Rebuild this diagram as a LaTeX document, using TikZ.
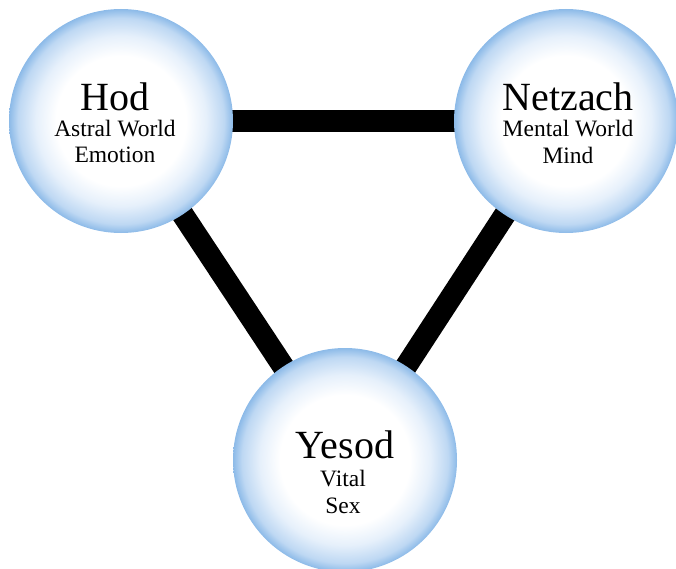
\documentclass[tikz,border=0pt]{standalone}
\usepackage{fontspec}
\setmainfont{Liberation Serif}
\pgfdeclarelayer{background}
\pgfsetlayers{background,main}
\definecolor{sphA}{RGB}{230,240,251}
\definecolor{sphB}{RGB}{190,216,243}
\definecolor{sphC}{RGB}{140,186,232}
\pgfdeclareradialshading{sphere}{\pgfpoint{0bp}{0bp}}{%
  color(0bp)=(white); color(14.5bp)=(white); color(19bp)=(sphA);
  color(23bp)=(sphB); color(25bp)=(sphC); color(50bp)=(sphC)}
\tikzset{
  sephira/.style={circle, minimum size=224pt, inner sep=0pt, shading=sphere},
  title/.style={anchor=base, inner sep=0pt, font=\fontsize{40}{40}\selectfont},
  sub/.style={anchor=base, inner sep=0pt, font=\fontsize{23.5}{23.5}\selectfont},
  path/.style={line width=22pt, draw=black}
}
\begin{document}
\begin{tikzpicture}[x=1pt,y=-1pt]
\useasboundingbox (0,0) rectangle (676,569);
\clip (0,0) rectangle (676,569);
\node[sephira] (hod) at (121,121) {};
\node[sephira] (netzach) at (566,121) {};
\node[sephira] (yesod) at (345,460) {};
\begin{pgfonlayer}{background}
\draw[path] (hod.center) -- (netzach.center);
\draw[path] (hod.center) -- (yesod.center);
\draw[path] (netzach.center) -- (yesod.center);
\end{pgfonlayer}
\node[title] (t1) at (115,111) {Hod};
\node[sub] (t1a) at (115,137) {Astral World};
\node[sub] (t1b) at (115,163) {Emotion};
\node[title] (t2) at (568,111) {Netzach};
\node[sub] (t2a) at (568,137) {Mental World};
\node[sub] (t2b) at (568,164) {Mind};
\node[title] (t3) at (345,458) {Yesod};
\node[sub] (t3a) at (343,486) {Vital};
\node[sub] (t3b) at (343,513) {Sex};
\end{tikzpicture}
\end{document}
